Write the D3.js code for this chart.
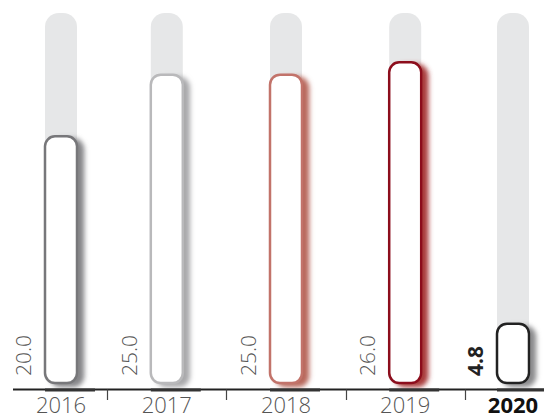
<!DOCTYPE html>
<html>
<head>
<meta charset="utf-8">
<script src="https://cdn.jsdelivr.net/npm/d3@7"></script>
<style>
    body { margin: 0; background: #fff; }
    text { font-family: "Open Sans", sans-serif; }
</style>
</head>
<body>
<div id="chart"></div>
<script>
// chart data
var years = ["2016", "2017", "2018", "2019", "2020"];
var values = [20.0, 25.0, 25.0, 26.0, 4.8];
var valueLabels = ["20.0", "25.0", "25.0", "26.0", "4.8"];
var strokeColors = ["#77777a", "#b9b9bb", "#c2736a", "#8c0d1c", "#222222"];
var shadowColors = ["#858588", "#a9a9ab", "#b8675c", "#a83a3a", "#8a8a8c"];
var highlightYear = "2020";

var width = 544, height = 416;
var baseY = 383, topY = 13;   // bar bottom / track top
var barW = 32;

var svg = d3.select("#chart").append("svg")
    .attr("width", width)
    .attr("height", height);

// band scale for the ticks, bars are kept inside the picture
var x = d3.scaleBand()
    .domain(years)
    .range([-12, 584]);

var y = d3.scaleLinear()
    .domain([0, 30])
    .range([baseY, topY]);

function barCenter(d) {
    var c = x(d) + x.bandwidth() / 2;
    return Math.max(45 + barW / 2, Math.min(width - 15 - barW / 2, c));
}

var data = years.map(function(d, i) {
    return {year: d, value: values[i], label: valueLabels[i], stroke: strokeColors[i], shadow: shadowColors[i]};
});

// one drop shadow filter per bar
var defs = svg.append("defs");
data.forEach(function(d, i) {
    defs.append("filter")
        .attr("id", "shadow" + i)
        .attr("x", "-50%").attr("y", "-20%")
        .attr("width", "200%").attr("height", "140%")
        .append("feDropShadow")
        .attr("dx", 6).attr("dy", 3)
        .attr("stdDeviation", 2.6)
        .attr("flood-color", d.shadow)
        .attr("flood-opacity", 1);
});

// background tracks
svg.selectAll(".track")
    .data(data)
    .enter().append("rect")
    .attr("class", "track")
    .attr("x", function(d) { return barCenter(d.year) - barW / 2; })
    .attr("y", y(30))
    .attr("width", barW)
    .attr("height", y(0) - y(30))
    .attr("rx", 14)
    .attr("fill", "#e6e7e8");

// bars
svg.selectAll(".bar")
    .data(data)
    .enter().append("rect")
    .attr("class", "bar")
    .attr("x", function(d) { return barCenter(d.year) - barW / 2; })
    .attr("y", function(d) { return y(d.value); })
    .attr("width", barW)
    .attr("height", function(d) { return y(0) - y(d.value); })
    .attr("rx", 10)
    .attr("fill", "#fff")
    .attr("stroke", function(d) { return d.stroke; })
    .attr("stroke-width", 2.5)
    .attr("filter", function(d, i) { return "url(#shadow" + i + ")"; });

// value labels, rotated
svg.selectAll(".value")
    .data(data)
    .enter().append("text")
    .attr("class", "value")
    .attr("transform", function(d) {
        return "translate(" + (barCenter(d.year) - barW / 2 - 14) + "," + 376 + ") rotate(-90)";
    })
    .attr("font-size", 21)
    .attr("font-weight", function(d) { return d.year === highlightYear ? 700 : 300; })
    .attr("fill", function(d) { return d.year === highlightYear ? "#222" : "#555"; })
    .text(function(d) { return d.label; });

// axis line
var axisY = 389.5;
svg.append("line")
    .attr("x1", 13).attr("x2", width)
    .attr("y1", axisY).attr("y2", axisY)
    .attr("stroke", "#222")
    .attr("stroke-width", 2);

// darker strip under each bar
svg.selectAll(".strip")
    .data(data)
    .enter().append("rect")
    .attr("class", "strip")
    .attr("x", function(d) { return barCenter(d.year) - barW / 2; })
    .attr("y", axisY - 1)
    .attr("width", 50)
    .attr("height", 3)
    .attr("fill", "#333");

// ticks between the years
svg.selectAll(".tick")
    .data(years.slice(1))
    .enter().append("line")
    .attr("class", "tick")
    .attr("x1", function(d) { return Math.round(x(d)) + 0.5; })
    .attr("x2", function(d) { return Math.round(x(d)) + 0.5; })
    .attr("y1", axisY)
    .attr("y2", 400)
    .attr("stroke", "#444")
    .attr("stroke-width", 1.2);

// year labels
svg.selectAll(".year")
    .data(data)
    .enter().append("text")
    .attr("class", "year")
    .attr("x", function(d) { return barCenter(d.year); })
    .attr("y", 413)
    .attr("text-anchor", "middle")
    .attr("font-size", 22)
    .attr("font-weight", function(d) { return d.year === highlightYear ? 700 : 300; })
    .attr("fill", function(d) { return d.year === highlightYear ? "#111" : "#555"; })
    .text(function(d) { return d.year; });
</script>
</body>
</html>
